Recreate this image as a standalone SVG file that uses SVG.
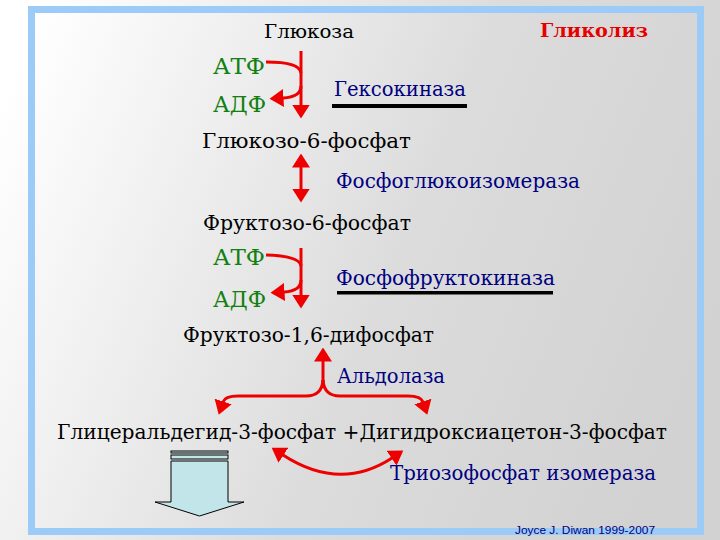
<svg xmlns="http://www.w3.org/2000/svg" width="720" height="540" viewBox="0 0 720 540">
<defs>
<linearGradient id="bg" gradientUnits="userSpaceOnUse" x1="0" y1="0" x2="720" y2="300">
<stop offset="0.05" stop-color="#ffffff"/>
<stop offset="0.6" stop-color="#dcdcdc"/>
<stop offset="1" stop-color="#d2d2d2"/>
</linearGradient>
<marker id="ah" markerUnits="userSpaceOnUse" markerWidth="14" markerHeight="18" viewBox="0 0 14 18" refX="0.5" refY="9" orient="auto-start-reverse">
<path d="M0,0 L14,9 L0,18 z" fill="#ee0000"/>
</marker>
<style>
.blk{fill:#000000;font-size:20px;}
.nrg{fill:#118011;font-size:21.5px;}
.enz{fill:#000080;font-size:20px;}
.ttl{fill:#e60000;font-size:19px;font-weight:bold;}
.cr{fill:#000080;font-size:11px;}
.ar{fill:none;stroke:#ee0000;stroke-width:3;marker-end:url(#ah);}
.ar2{fill:none;stroke:#ee0000;stroke-width:3;marker-end:url(#ah);marker-start:url(#ah);}
.ln{fill:none;stroke:#ee0000;stroke-width:3;}
.ul{fill:#000000;}
</style>
</defs>
<rect x="0" y="0" width="720" height="540" fill="url(#bg)"/>
<rect x="31.5" y="9.5" width="669" height="522" fill="none" stroke="#9dcbf8" stroke-width="7"/>

<g font-family="DejaVu Serif, Liberation Serif, serif">
<g id="title"><text class="ttl" x="540" y="37" textLength="108" lengthAdjust="spacingAndGlyphs">Гликолиз</text></g>
<g id="glucose"><text class="blk" x="264" y="38" style="font-size:18.5px" textLength="90" lengthAdjust="spacingAndGlyphs">Глюкоза</text></g>
<g id="atp1"><text class="nrg" x="213" y="74" textLength="52" lengthAdjust="spacingAndGlyphs">АТФ</text></g>
<g id="hexokinase"><text class="enz" x="334" y="96" textLength="132" lengthAdjust="spacingAndGlyphs">Гексокиназа</text><rect class="ul" x="332" y="104" width="135" height="4"/></g>
<g id="adp1"><text class="nrg" x="213" y="112" textLength="53" lengthAdjust="spacingAndGlyphs">АДФ</text></g>
<g id="g6p"><text class="blk" x="202" y="148" textLength="209" lengthAdjust="spacingAndGlyphs">Глюкозо-6-фосфат</text></g>
<g id="pgi"><text class="enz" x="336" y="188" textLength="244" lengthAdjust="spacingAndGlyphs">Фосфоглюкоизомераза</text></g>
<g id="f6p"><text class="blk" x="203" y="230" textLength="208" lengthAdjust="spacingAndGlyphs">Фруктозо-6-фосфат</text></g>
<g id="atp2"><text class="nrg" x="213" y="265" textLength="52" lengthAdjust="spacingAndGlyphs">АТФ</text></g>
<g id="pfk"><text class="enz" x="336" y="285" textLength="219" lengthAdjust="spacingAndGlyphs">Фосфофруктокиназа</text><rect class="ul" x="337" y="291" width="216" height="3.5"/></g>
<g id="adp2"><text class="nrg" x="213" y="307" textLength="53" lengthAdjust="spacingAndGlyphs">АДФ</text></g>
<g id="f16bp"><text class="blk" x="183" y="342" textLength="251" lengthAdjust="spacingAndGlyphs">Фруктозо-1,6-дифосфат</text></g>
<g id="aldolase"><text class="enz" x="337" y="383" textLength="108" lengthAdjust="spacingAndGlyphs">Альдолаза</text></g>
<g id="trioses"><text class="blk" x="57" y="439" textLength="610" lengthAdjust="spacingAndGlyphs">Глицеральдегид-3-фосфат +Дигидроксиацетон-3-фосфат</text></g>
<g id="tpi"><text class="enz" x="390" y="480" textLength="266" lengthAdjust="spacingAndGlyphs">Триозофосфат изомераза</text></g>
</g>
<g id="next">
<rect x="171" y="451" width="57" height="2" fill="#c2e5e9" stroke="#000" stroke-width="1"/>
<rect x="171" y="455" width="57" height="4" fill="#c2e5e9" stroke="#000" stroke-width="1"/>
<polygon points="171,461 228,461 228,502 244,502 199.5,516 155,502 171,502" fill="#c2e5e9" stroke="#000" stroke-width="1"/>
</g>
<g id="credit"><text class="cr" font-family="Liberation Sans, Arial, sans-serif" x="515" y="534" textLength="140" lengthAdjust="spacingAndGlyphs">Joyce J. Diwan 1999-2007</text></g>

<g id="connectors">
<path class="ar" d="M301,51 L301,105"/>
<path class="ln" d="M266,62 Q300,62 301,73"/>
<path class="ar" d="M301,86 Q301,97 283,98"/>
<path class="ar2" d="M301,167 L301,189"/>
<path class="ar" d="M301,248 L301,295"/>
<path class="ln" d="M266,255 Q300,256 301,266"/>
<path class="ar" d="M301,280 Q301,291 284,292"/>
<path class="ar" d="M323,388 L323,361"/>
<path class="ar" d="M323,380 Q324,396 340,396 L408,396 Q421,396 423,402"/>
<path class="ar" d="M323,380 Q322,396 306,396 L238,396 Q225,396 223,402"/>
<path class="ar2" d="M283,455 Q340,492 392,458"/>
</g>
</svg>
